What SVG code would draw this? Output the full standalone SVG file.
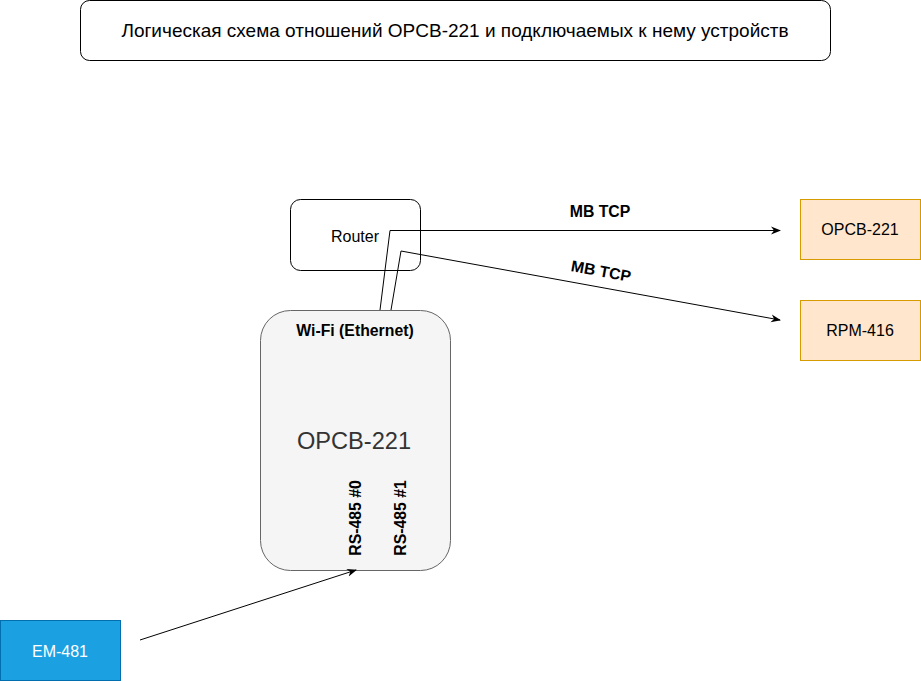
<svg xmlns="http://www.w3.org/2000/svg" width="921" height="681" viewBox="0 0 921 681">
<style>
text{font-family:"Liberation Sans",Arial,sans-serif;text-anchor:middle;dominant-baseline:central}
.l{fill:none;stroke:#000;stroke-width:1}
.b{font-weight:bold;font-size:15.8px}
.n{font-size:16px}
</style>
<defs>
<marker id="a" viewBox="0 0 10 10" refX="9" refY="5" markerWidth="10" markerHeight="10" markerUnits="userSpaceOnUse" orient="auto">
<path d="M0,1 L10,5 L0,9 L3,5 Z" fill="#000"/>
</marker>
</defs>
<rect width="921" height="681" fill="#fff"/>
<g id="title"><rect x="80.5" y="0.5" width="750" height="60" rx="9" fill="#fff" stroke="#000"/><text x="455" y="30" font-size="19">Логическая схема отношений OPCB-221 и подключаемых к нему устройств</text></g>
<g id="router"><rect x="290.5" y="199.5" width="130" height="71" rx="10" fill="#fff" stroke="#000"/><text x="355" y="236" class="n">Router</text></g>
<g id="main"><rect x="260.5" y="310.5" width="190" height="260" rx="30" fill="#f5f5f5" stroke="#666"/>
<text x="355" y="330" class="b">Wi-Fi (Ethernet)</text>
<text x="354" y="441" font-size="23.6" fill="#333">OPCB-221</text>
<text class="b" transform="translate(355,518) rotate(-90)">RS-485 #0</text>
<text class="b" transform="translate(400,518) rotate(-90)">RS-485 #1</text></g>
<g id="opcb"><rect x="800.5" y="199.5" width="120" height="60" fill="#ffe6cc" stroke="#d79b00"/><text x="860" y="229" class="n">OPCB-221</text></g>
<g id="rpm"><rect x="800.5" y="300.5" width="120" height="60" fill="#ffe6cc" stroke="#d79b00"/><text x="860" y="330" class="n">RPM-416</text></g>
<g id="em"><rect x="0.5" y="620.5" width="120" height="60" fill="#1ba1e2" stroke="#006eaf"/><text x="60" y="651" class="n" fill="#fff">EM-481</text></g>
<g id="connectors">
<polyline class="l" points="380,310 390,230.5 780,230.5" marker-end="url(#a)"/>
<polyline class="l" points="391,310 401,251 780,320" marker-end="url(#a)"/>
<line class="l" x1="140" y1="640" x2="356" y2="570" marker-end="url(#a)"/>
<text x="600" y="211" class="b">MB TCP</text>
<text class="b" transform="translate(601,271) rotate(10.3)">MB TCP</text>
</g>
</svg>
